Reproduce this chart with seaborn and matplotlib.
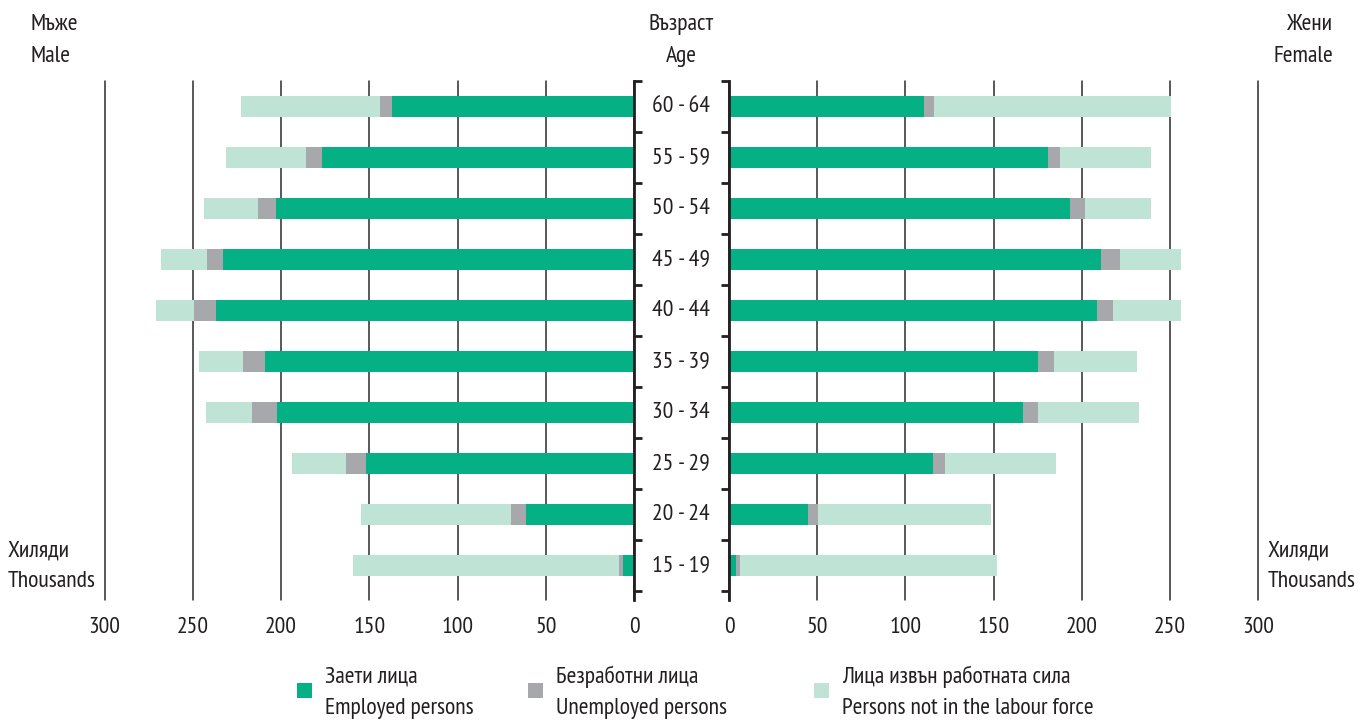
import numpy as np
import pandas as pd
import matplotlib
matplotlib.use("Agg")
import matplotlib.pyplot as plt
import matplotlib.font_manager as fm
from matplotlib import transforms
from matplotlib.patches import Rectangle
import seaborn as sns

# ---------------- data (thousands) ----------------
ages = ["15 - 19", "20 - 24", "25 - 29", "30 - 34", "35 - 39",
        "40 - 44", "45 - 49", "50 - 54", "55 - 59", "60 - 64"]

male_employed   = [6, 61, 152, 202, 209, 237, 233, 203, 177, 137]
male_unemployed = [2.3, 8.8, 11.2, 14.7, 12.4, 12.5, 9.0, 10.1, 9.0, 6.8]
male_inactive   = [151, 84.7, 30.3, 26.0, 25.0, 21.3, 26.0, 30.7, 45.1, 78.8]

female_employed   = [3.8, 44.6, 115.4, 166.6, 175.0, 208.4, 210.6, 193.1, 180.5, 110.7]
female_unemployed = [2.2, 5.6, 6.8, 8.4, 9.1, 9.4, 10.7, 8.5, 6.8, 5.7]
female_inactive   = [145.8, 98.3, 63.3, 57.1, 46.8, 38.4, 34.9, 37.3, 51.6, 134.0]

x_ticks = [0, 50, 100, 150, 200, 250, 300]

legend_bg = ["Заети лица", "Безработни лица", "Лица извън работната сила"]
legend_en = ["Employed persons", "Unemployed persons", "Persons not in the labour force"]

C_EMP = "#06B085"
C_UNE = "#A7A8AB"
C_INA = "#BFE3D5"
TXT = "#231F20"
GRID = "#2b2b2b"

# ---------------- style ----------------
sns.set_theme(style="white")
names = {f.name for f in fm.fontManager.ttflist}
FONT = "DejaVu Sans"
for cand in ["PT Sans Narrow", "Fira Sans Extra Condensed", "Roboto Condensed",
             "Fira Sans Condensed", "Liberation Sans Narrow"]:
    if cand in names:
        FONT = cand
        break
plt.rcParams["font.family"] = [FONT, "DejaVu Sans"]
plt.rcParams["text.color"] = TXT
FS = 17.1

order = ages[::-1]  # 60-64 on top


def make_df(emp, une, ina):
    df = pd.DataFrame({"age": ages, "emp": emp, "une": une, "ina": ina})
    df["c1"] = df["emp"]
    df["c2"] = df["emp"] + df["une"]
    df["c3"] = df["c2"] + df["ina"]
    return df


dfm = make_df(male_employed, male_unemployed, male_inactive)
dff = make_df(female_employed, female_unemployed, female_inactive)

fig = plt.figure(figsize=(13.72, 7.21), dpi=100)
W, H = 1372, 721
axL = fig.add_axes([104.5 / W, 1 - 600 / H, 529.5 / W, 519 / H])
axR = fig.add_axes([729 / W, 1 - 600 / H, 529.5 / W, 519 / H])

for ax, df in ((axL, dfm), (axR, dff)):
    for col, c in (("c3", C_INA), ("c2", C_UNE), ("c1", C_EMP)):
        sns.barplot(data=df, x=col, y="age", order=order, orient="y",
                    color=c, width=0.42, linewidth=0, saturation=1, ax=ax)
    ax.set_xlabel("")
    ax.set_ylabel("")
    ax.set_xticks(x_ticks)
    ax.set_xticklabels([str(t) for t in x_ticks])
    ax.grid(axis="x", color=GRID, lw=1.1)
    ax.grid(axis="y", visible=False)
    for gl in ax.get_xgridlines():
        gl.set_clip_on(False)
    ax.set_axisbelow(True)
    ax.set_ylim(9.68, -0.5)
    ax.set_yticks(np.arange(-0.5, 10, 1))
    ax.set_yticklabels([])
    ax.tick_params(axis="x", length=0, pad=12, labelsize=FS, labelcolor=TXT)
    ax.tick_params(axis="y", direction="out", length=6, width=2, color=TXT)
    for s in ax.spines.values():
        s.set_visible(False)

axL.set_xlim(300, 0)
axR.set_xlim(0, 300)
axL.spines["right"].set_visible(True)
axL.spines["right"].set_linewidth(2)
axL.spines["right"].set_color(TXT)
axL.yaxis.set_ticks_position("right")
axR.spines["left"].set_visible(True)
axR.spines["left"].set_linewidth(2)
axR.spines["left"].set_color(TXT)
axR.yaxis.set_ticks_position("left")

# age labels in the center
tr = transforms.blended_transform_factory(fig.transFigure, axL.transData)
for i, a in enumerate(order):
    axL.text(681 / W, i, a, transform=tr, ha="center",
             va="center", fontsize=FS, clip_on=False)


def ftext(x, y, s, ha="left"):
    fig.text(x / W, 1 - y / H, s, ha=ha, va="baseline", fontsize=FS)


ftext(31, 30, "Мъже")
ftext(31, 62, "Male")
ftext(1333, 30, "Жени", ha="right")
ftext(1333, 62, "Female", ha="right")
ftext(681, 30, "Възраст", ha="center")
ftext(681, 62, "Age", ha="center")
ftext(8, 557, "Хиляди")
ftext(8, 587, "Thousands")
ftext(1268, 557, "Хиляди")
ftext(1268, 587, "Thousands")

# legend
sq_x = [297, 528, 814]
tx_x = [325, 556, 842]
for cx, tx, c, l1, l2 in zip(sq_x, tx_x, [C_EMP, C_UNE, C_INA], legend_bg, legend_en):
    fig.add_artist(Rectangle((cx / W, 1 - 698 / H), 15 / W, 15 / H,
                             transform=fig.transFigure, color=c, lw=0))
    ftext(tx, 683, l1)
    ftext(tx, 714, l2)

fig.savefig("out.png", dpi=100)
